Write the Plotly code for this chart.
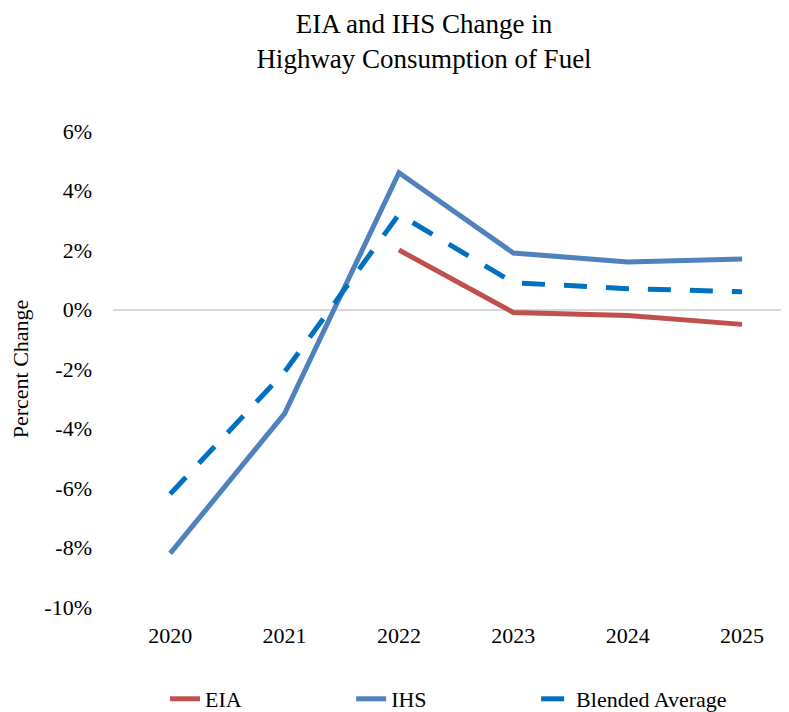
import plotly.graph_objects as go

years = ["2020", "2021", "2022", "2023", "2024", "2025"]
eia = [None, None, 2.0, -0.1, -0.2, -0.5]
ihs = [-8.2, -3.5, 4.6, 1.9, 1.6, 1.7]
blended = [-6.2, -2.1, 3.2, 0.9, 0.7, 0.6]
y_ticks = [-10, -8, -6, -4, -2, 0, 2, 4, 6]
y_tick_labels = ["-10%", "-8%", "-6%", "-4%", "-2%", "0%", "2%", "4%", "6%"]
series_names = ["EIA", "IHS", "Blended Average"]

FONT = "Liberation Serif"
# page body has an 8px margin; figure is sized/offset accordingly
W, H = 781, 704
PAD = "\u00a0" * 19  # widen legend entries to match the reference spacing

fig = go.Figure()
fig.add_trace(go.Scatter(x=years, y=eia, name=series_names[0] + PAD, mode="lines",
                         line=dict(color="#C0504D", width=5), connectgaps=False))
fig.add_trace(go.Scatter(x=years, y=ihs, name=series_names[1] + PAD, mode="lines",
                         line=dict(color="#4F81BD", width=5)))
fig.add_trace(go.Scatter(x=years, y=blended, name=series_names[2], mode="lines",
                         line=dict(color="#0070C0", width=5, dash="23px,19px")))

fig.update_layout(
    width=W, height=H,
    paper_bgcolor="white", plot_bgcolor="white",
    font=dict(family=FONT, size=22, color="#000000"),
    margin=dict(l=105, r=0, t=123, b=105),
    title=dict(text="EIA and IHS Change in<br>Highway Consumption of Fuel",
               font=dict(family=FONT, size=27, color="#000000"),
               x=416 / W, xanchor="center", xref="container",
               y=1 - 25 / H, yanchor="middle", yref="container"),
    xaxis=dict(type="category", range=[-0.5, 5.41], showgrid=False,
               showline=False, ticks="", ticklabelstandoff=13,
               tickfont=dict(size=22)),
    yaxis=dict(range=[-10, 6], tickvals=y_ticks, ticktext=y_tick_labels,
               showgrid=False, showline=False, ticks="",
               zeroline=True, zerolinecolor="#D9D9D9", zerolinewidth=2,
               ticklabelstandoff=20, tickfont=dict(size=22),
               title=dict(text="Percent Change", standoff=9,
                          font=dict(size=22))),
    legend=dict(orientation="h", xref="container", yref="container",
                x=157 / W, xanchor="left", y=1 - 691 / H, yanchor="middle",
                font=dict(size=22), bgcolor="rgba(0,0,0,0)"),
    showlegend=True,
)

fig.write_html("out.html")
